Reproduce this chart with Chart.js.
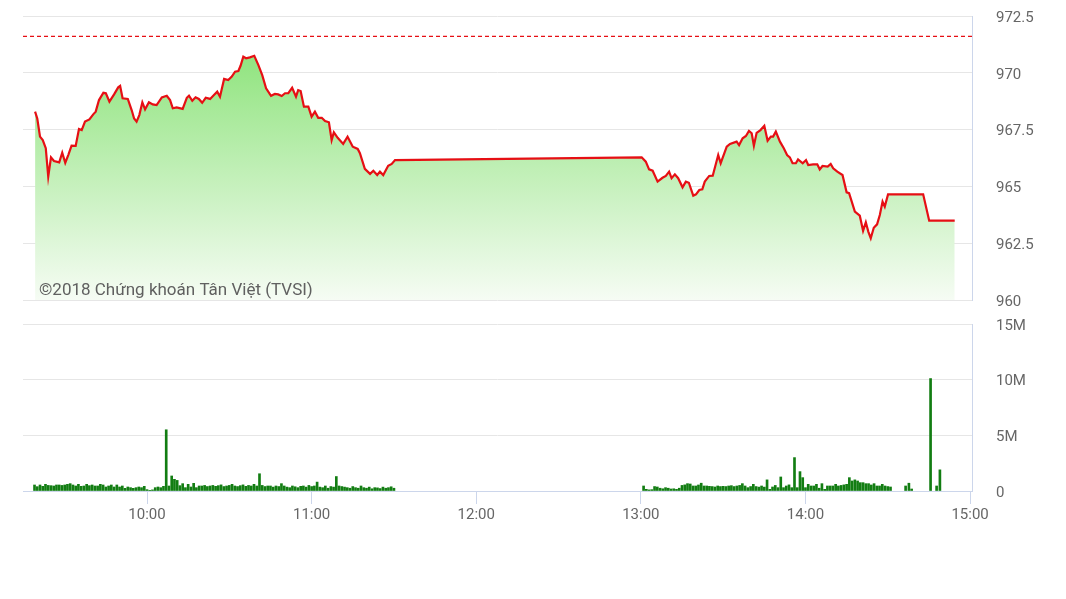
<!DOCTYPE html>
<html>
<head>
<meta charset="utf-8">
<title>VN-Index intraday</title>
<script src="https://cdn.jsdelivr.net/npm/chart.js@4.4.1/dist/chart.umd.min.js"></script>
<style>
  body { margin: 0; background: #fff; }
  #wrap { position: relative; width: 1066px; height: 599px; }
  canvas { position: absolute; left: 0; }
  #priceChart { top: 0; }
  #volChart { top: 310px; }
</style>
</head>
<body>
<div id="wrap">
  <canvas id="priceChart" width="1066" height="310"></canvas>
  <canvas id="volChart" width="1066" height="289"></canvas>
</div>
<script>
// times are minutes after 9:00
const priceT = [
  19.2, 20.0, 21.0, 22.0, 23.1, 24.0, 25.0, 26.1, 28.0, 29.1, 30.2, 31.3, 32.5, 34.0,
  35.2, 36.2, 37.4, 39.0, 40.4, 41.3, 42.5, 44.1, 45.0, 46.3, 48.0, 49.5, 50.2, 51.1,
  53.0, 54.4, 55.3, 56.2, 57.2, 58.3, 59.3, 60.7, 62.1, 63.5, 65.4, 67.2, 68.4, 69.4,
  70.8, 73.0, 74.5, 75.3, 76.5, 77.7, 78.9, 80.1, 81.4, 83.0, 84.4, 85.6, 86.6, 88.1,
  89.6, 90.9, 92.1, 93.3, 94.1, 95.1, 96.1, 97.5, 99.1, 100.6, 102.0, 103.4, 105.2, 106.6,
  107.8, 109.1, 110.3, 111.5, 112.9, 114.3, 115.1, 116.0, 117.2, 118.8, 120.0, 121.2, 122.4, 123.7,
  124.9, 126.3, 127.3, 128.1, 129.5, 131.5, 133.1, 135.0, 136.8, 137.6, 139.4, 141.3, 142.5, 143.9,
  144.9, 146.1, 147.9, 149.2, 150.4,
  240.3, 241.8, 243.0, 244.3, 246.1, 247.9, 249.1, 250.3, 251.2, 252.4, 253.6, 255.2, 256.4, 257.5,
  259.1, 260.1, 261.3, 262.4, 263.3, 264.9, 266.2, 268.2, 269.1, 271.3, 272.5, 274.9, 275.8, 277.1,
  278.3, 279.4, 280.4, 281.2, 282.2, 283.6, 285.0, 286.2, 287.4, 288.2, 289.2, 290.7, 292.1, 293.3,
  294.3, 295.3, 296.5, 297.3, 299.0, 300.2, 301.0, 302.8, 304.3, 305.2, 306.2, 308.1, 309.2, 310.1,
  311.6, 313.5, 315.0, 315.9, 318.0, 319.8, 321.0, 322.0, 322.9, 323.8, 324.9, 326.1, 327.1, 328.1,
  328.9, 330.1, 342.9, 345.1, 354.4
];
const priceV = [
  968.29, 967.99, 967.19, 967.04, 966.68, 965.43, 966.28, 966.12, 966.06, 966.48, 966.04, 966.38, 966.79, 966.78,
  967.53, 967.48, 967.85, 967.95, 968.17, 968.29, 968.80, 969.12, 969.10, 968.73, 969.05, 969.36, 969.42, 968.88,
  968.85, 968.36, 967.99, 967.85, 968.14, 968.70, 968.39, 968.70, 968.61, 968.58, 968.92, 968.99, 968.80, 968.44,
  968.48, 968.41, 968.90, 968.99, 968.77, 968.92, 968.85, 968.68, 968.90, 968.85, 969.02, 969.17, 968.95, 969.73,
  969.68, 969.83, 970.05, 970.08, 970.31, 970.71, 970.64, 970.68, 970.75, 970.34, 969.90, 969.32, 968.99, 969.07,
  969.05, 968.98, 969.10, 969.10, 969.34, 968.95, 969.24, 969.20, 968.51, 968.51, 968.07, 968.29, 968.02, 968.02,
  967.88, 967.82, 967.04, 967.38, 967.14, 966.87, 967.19, 966.75, 966.65, 966.46, 965.77, 965.55, 965.69, 965.50,
  965.65, 965.50, 965.91, 965.99, 966.16,
  966.28, 966.09, 965.75, 965.69, 965.21, 965.38, 965.46, 965.65, 965.36, 965.53, 965.36, 964.96, 965.21, 965.16,
  964.59, 964.65, 964.84, 964.87, 965.21, 965.46, 965.47, 966.38, 966.02, 966.75, 966.87, 966.97, 966.82, 967.12,
  967.22, 967.44, 967.34, 966.79, 967.36, 967.48, 967.67, 967.01, 967.19, 967.19, 967.41, 966.97, 966.68, 966.38,
  966.28, 966.02, 966.02, 966.19, 966.02, 966.16, 965.94, 965.97, 965.97, 965.75, 965.90, 965.87, 965.99, 965.80,
  965.65, 965.50, 964.74, 964.70, 963.89, 963.71, 963.05, 963.42, 963.01, 962.72, 963.18, 963.33, 963.74, 964.33,
  964.11, 964.65, 964.65, 963.49, 963.49
];
const refLevel = 971.6;

// volume in millions, one bar per minute
const volMorningStart = 19;   // 9:19
const volMorning = [
  0.54, 0.39, 0.54, 0.42, 0.60, 0.50, 0.48, 0.45, 0.54, 0.54,
  0.50, 0.54, 0.60, 0.66, 0.54, 0.45, 0.60, 0.42, 0.45, 0.60,
  0.48, 0.54, 0.45, 0.45, 0.60, 0.54, 0.36, 0.45, 0.54, 0.36,
  0.54, 0.36, 0.45, 0.24, 0.36, 0.30, 0.24, 0.30, 0.36, 0.30,
  0.42, 0.12, 0.06, 0.10, 0.30, 0.36, 0.30, 0.42, 5.50, 0.45,
  1.35, 1.05, 0.95, 0.48, 0.66, 0.30, 0.60, 0.36, 0.69, 0.30,
  0.45, 0.45, 0.50, 0.40, 0.45, 0.50, 0.42, 0.48, 0.55, 0.40,
  0.45, 0.50, 0.60, 0.45, 0.40, 0.48, 0.55, 0.42, 0.50, 0.45,
  0.60, 0.45, 1.55, 0.50, 0.40, 0.45, 0.45, 0.35, 0.45, 0.40,
  0.66, 0.45, 0.35, 0.30, 0.45, 0.38, 0.30, 0.42, 0.45, 0.35,
  0.50, 0.40, 0.45, 0.80, 0.35, 0.30, 0.45, 0.25, 0.40, 0.35,
  1.30, 0.45, 0.40, 0.35, 0.30, 0.25, 0.40, 0.30, 0.25, 0.45,
  0.30, 0.25, 0.35, 0.20, 0.30, 0.28, 0.22, 0.35, 0.25, 0.30,
  0.38, 0.25
];
const volAfternoonStart = 241; // 13:01
const volAfternoon = [
  0.45, 0.15, 0.10, 0.12, 0.40, 0.36, 0.25, 0.20, 0.30, 0.25,
  0.18, 0.20, 0.15, 0.25, 0.50, 0.55, 0.66, 0.63, 0.45, 0.45,
  0.54, 0.70, 0.45, 0.45, 0.42, 0.40, 0.36, 0.45, 0.40, 0.42,
  0.40, 0.45, 0.48, 0.40, 0.45, 0.50, 0.66, 0.45, 0.30, 0.40,
  0.60, 0.40, 0.35, 0.45, 0.35, 1.00, 0.15, 0.36, 0.50, 0.30,
  1.26, 0.30, 0.45, 0.55, 0.30, 3.00, 0.30, 1.74, 1.20, 0.30,
  0.60, 0.45, 0.45, 0.60, 0.25, 0.66, 0.15, 0.45, 0.45, 0.45,
  0.60, 0.45, 0.50, 0.55, 0.60, 1.20, 0.90, 1.00, 0.90, 0.75,
  0.75, 0.66, 0.66, 0.54, 0.66, 0.45, 0.45, 0.60, 0.45, 0.40,
  0.36
];
const volLateT = [336.5, 337.7, 338.7, 345.6, 347.8, 349.0];
const volLate = [0.45, 0.70, 0.18, 10.1, 0.45, 1.90];

const priceTickVals = [960, 962.5, 965, 967.5, 970, 972.5];
const priceTickLabels = ['960', '962.5', '965', '967.5', '970', '972.5'];
const volTickVals = [0, 5, 10, 15];
const volTickLabels = ['0', '5M', '10M', '15M'];
const timeTickVals = [600, 660, 720, 780, 840, 900];
const timeTickLabels = ['10:00', '11:00', '12:00', '13:00', '14:00', '15:00'];
const watermarkText = '©2018 Chứng khoán Tân Việt (TVSI)';

const xMin = 554.8;
const xMax = 900.7;

Chart.defaults.font.family = 'Roboto';
Chart.defaults.font.size = 15;
Chart.defaults.color = '#666666';

const watermark = {
  id: 'watermark',
  afterDatasetsDraw(chart) {
    const c = chart.ctx;
    c.save();
    c.font = '17px Roboto';
    c.fillStyle = '#606060';
    c.fillText(watermarkText, 39, 295);
    c.restore();
  }
};

function fixedTicks(vals) {
  return scale => { scale.ticks = vals.map(v => ({ value: v })); };
}

// right-hand value axis: labels pushed out with an invisible tick mark
function rightAxis(min, max, vals, labels) {
  return {
    position: 'right',
    min: min,
    max: max,
    afterBuildTicks: fixedTicks(vals),
    afterFit: s => { s.width = 94; },
    ticks: { padding: 0, labelOffset: 2, callback: (v, i) => labels[i] },
    grid: { color: '#e6e6e6', drawTicks: true, tickLength: 24, tickColor: 'rgba(0,0,0,0)' },
    border: { display: true, color: '#ccd6eb' }
  };
}

function initPriceChart() {
  const ctx = document.getElementById('priceChart').getContext('2d');
  new Chart(ctx, {
    type: 'line',
    data: {
      datasets: [{
        data: priceT.map((t, i) => ({ x: 540 + t, y: priceV[i] })),
        borderColor: '#e60f14',
        borderWidth: 2.2,
        pointRadius: 0,
        tension: 0,
        fill: 'start',
        backgroundColor: c => {
          const area = c.chart.chartArea;
          if (!area) return 'rgba(150,230,130,0.6)';
          const g = c.chart.ctx.createLinearGradient(0, area.top, 0, area.bottom);
          g.addColorStop(0, 'rgb(128,224,108)');
          g.addColorStop(1, 'rgb(246,252,244)');
          return g;
        }
      }, {
        data: [{ x: xMin, y: refLevel }, { x: xMax, y: refLevel }],
        borderColor: '#e60f14',
        borderWidth: 1.3,
        borderDash: [4, 3],
        pointRadius: 0,
        fill: false
      }]
    },
    options: {
      responsive: false,
      animation: false,
      events: [],
      layout: { padding: { left: 23, top: 16, bottom: 10, right: 0 } },
      plugins: { legend: { display: false }, tooltip: { enabled: false } },
      scales: {
        x: { type: 'linear', min: xMin, max: xMax, display: false },
        y: rightAxis(960, 972.5, priceTickVals, priceTickLabels)
      }
    },
    plugins: [watermark]
  });
}

function initVolChart() {
  const ctx = document.getElementById('volChart').getContext('2d');
  const points = [];
  volMorning.forEach((v, i) => points.push({ x: 540 + volMorningStart + i, y: v }));
  volAfternoon.forEach((v, i) => points.push({ x: 540 + volAfternoonStart + i, y: v }));
  volLate.forEach((v, i) => points.push({ x: 540 + volLateT[i], y: v }));

  new Chart(ctx, {
    type: 'bar',
    data: {
      datasets: [{
        data: points,
        backgroundColor: 'rgb(18,125,18)',
        barThickness: 2,
        grouped: false
      }]
    },
    options: {
      responsive: false,
      animation: false,
      events: [],
      layout: { padding: { left: 23, top: 14, bottom: 0, right: 0 } },
      plugins: { legend: { display: false }, tooltip: { enabled: false } },
      scales: {
        x: {
          type: 'linear',
          min: xMin,
          max: xMax,
          offset: false,
          afterBuildTicks: fixedTicks(timeTickVals),
          afterFit: s => { s.height = 108; },
          ticks: { padding: 2, maxRotation: 0, autoSkip: false, callback: (v, i) => timeTickLabels[i] },
          grid: { offset: false, drawOnChartArea: false, drawTicks: true, tickLength: 13, tickColor: '#ccd6eb', color: '#ccd6eb' },
          border: { display: true, color: '#ccd6eb' }
        },
        y: rightAxis(0, 15, volTickVals, volTickLabels)
      }
    }
  });
}

document.addEventListener('DOMContentLoaded', () => {
  initPriceChart();
  initVolChart();
});
</script>
</body>
</html>
